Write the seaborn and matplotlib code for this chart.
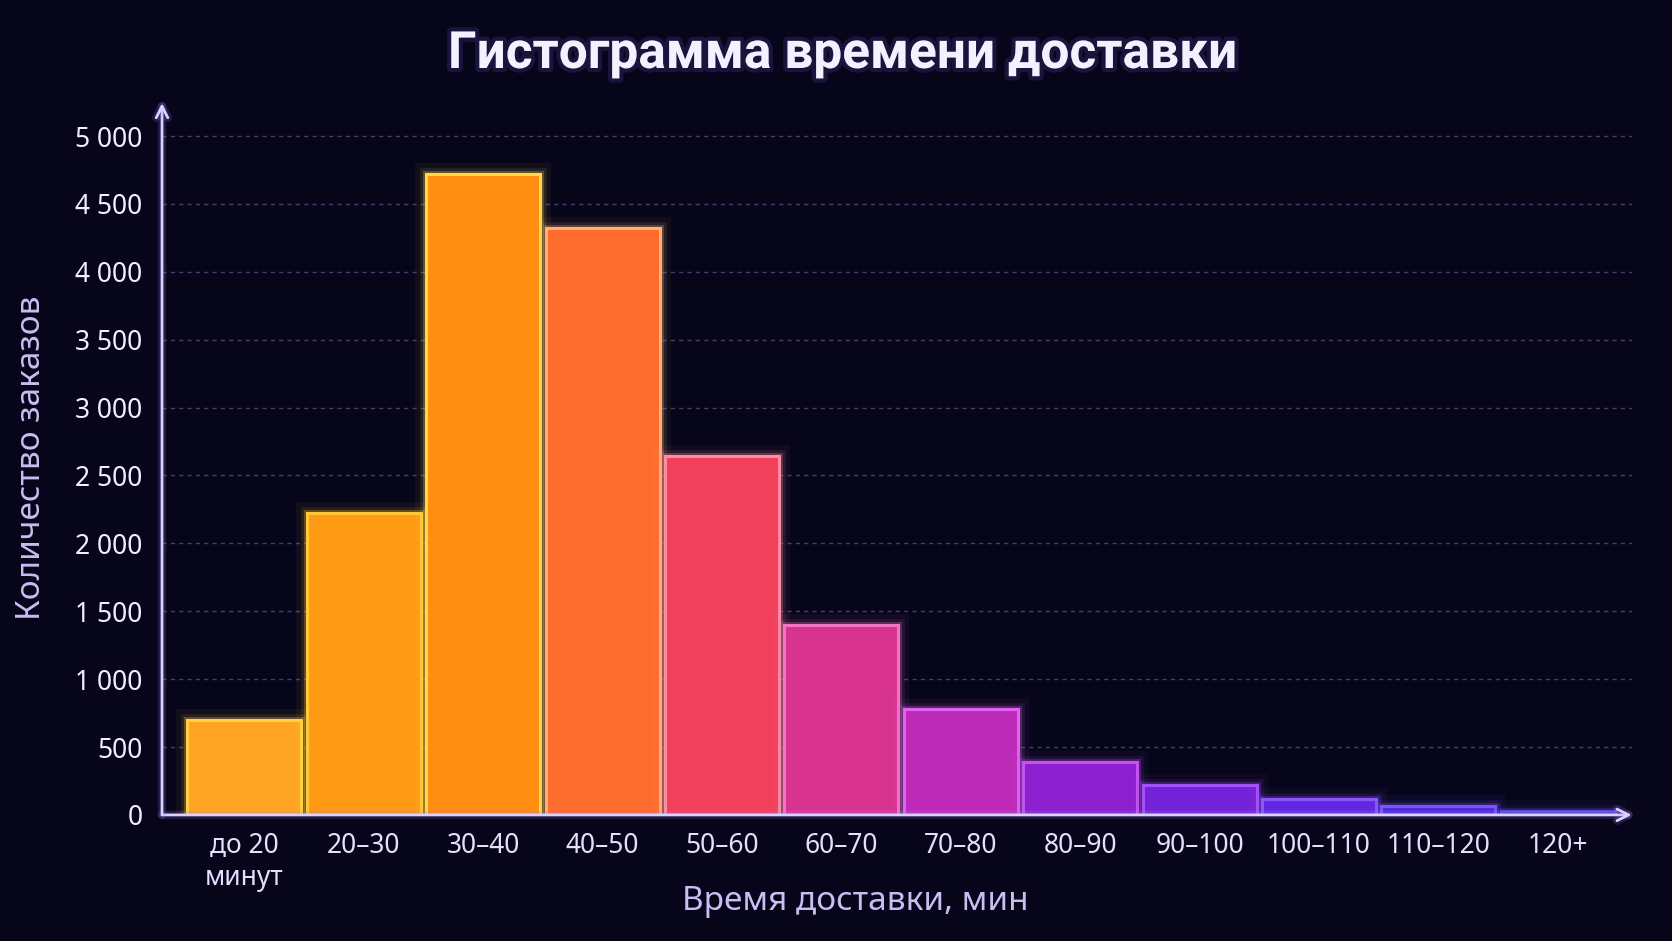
import numpy as np
import pandas as pd
import matplotlib
matplotlib.use("Agg")
import matplotlib.pyplot as plt
import matplotlib.patheffects as pe
from matplotlib.ticker import FuncFormatter, MultipleLocator
import seaborn as sns

# data
categories = ["до 20\nминут", "20–30", "30–40", "40–50", "50–60", "60–70",
              "70–80", "80–90", "90–100", "100–110", "110–120", "120+"]
orders = [700, 2220, 4720, 4320, 2640, 1400, 780, 390, 220, 120, 65, 30]

# colours, warm to cold
fill_colors = ["#FFA523", "#FF9A15", "#FF8E12", "#FF6D2E", "#F0405C", "#D8348F",
               "#BE2AB8", "#8C20CF", "#7424D8", "#6228E0", "#4F2AD8", "#3A2AB0"]
edge_colors = ["#FFD045", "#FFC83A", "#FFD84A", "#FFB070", "#FF8CA2", "#F274C4",
               "#E062F0", "#C452F2", "#A452F8", "#8C55FF", "#7A55FF", "#5A48D8"]

BG = "#06051A"
AXIS_COLOR = "#DCD0FF"
LABEL_COLOR = "#CBBDF2"

sns.set_theme(style="dark")
plt.rcParams["font.family"] = ["Noto Sans", "DejaVu Sans"]

df = pd.DataFrame({"bin": categories, "count": orders})

fig = plt.figure(figsize=(16.72, 9.41), dpi=100, facecolor=BG)
ax = fig.add_axes([0.0969, 0.134, 0.879, 0.7565])
ax.set_facecolor(BG)

sns.barplot(data=df, x="bin", y="count", hue="bin", palette=fill_colors,
            legend=False, width=0.955, saturation=1, ax=ax, zorder=3)

# glowing outlines
for patch, ec in zip(ax.patches, edge_colors):
    patch.set_edgecolor(ec)
    patch.set_linewidth(2.2)
    patch.set_path_effects([
        pe.Stroke(linewidth=16, foreground=ec, alpha=0.05),
        pe.Stroke(linewidth=9, foreground=ec, alpha=0.10),
        pe.Stroke(linewidth=5, foreground=ec, alpha=0.25),
        pe.Normal(),
    ])

ax.set_xlim(-0.69, 11.62)
ax.set_ylim(0, 5243)

# grid
ax.yaxis.set_major_locator(MultipleLocator(500))
ax.yaxis.set_major_formatter(FuncFormatter(lambda v, _: f"{int(v):,}".replace(",", " ")))
ax.grid(axis="y", color="#5B4F8E", linestyle=(0, (3, 3)), linewidth=1.0, alpha=0.75, zorder=0)
ax.grid(axis="x", visible=False)

for s in ax.spines.values():
    s.set_visible(False)

# axes with arrows
glow = [pe.Stroke(linewidth=6, foreground="#9C7CFF", alpha=0.18), pe.Normal()]
for end in [(1, 0), (0, 1)]:
    ax.annotate("", xy=end, xytext=(0, 0), xycoords="axes fraction",
                arrowprops=dict(arrowstyle="->,head_length=0.7,head_width=0.35",
                                color=AXIS_COLOR, lw=2, shrinkA=0, shrinkB=0,
                                path_effects=glow), zorder=5)

ax.tick_params(axis="y", length=0, pad=14, labelsize=19, labelcolor="#F2EEFF")
ax.tick_params(axis="x", length=0, pad=12, labelsize=19, labelcolor="#E6DEFF")
ax.set_xlabel("")
ax.set_ylabel("")

fig.text(855 / 1672, 1 - 901 / 941, "Время доставки, мин", ha="center", va="center",
         fontsize=24, color=LABEL_COLOR)
fig.text(32 / 1672, 1 - 458 / 941, "Количество заказов", ha="center", va="center",
         rotation=90, fontsize=24, color=LABEL_COLOR)
fig.text(842 / 1672, 1 - 54 / 941, "Гистограмма времени доставки", ha="center",
         va="center", fontsize=37, fontweight="bold", color="#F4F0FF",
         family=["Roboto", "DejaVu Sans"],
         path_effects=[pe.Stroke(linewidth=6, foreground="#8A70FF", alpha=0.15), pe.Normal()])

fig.savefig("out.png", dpi=100, facecolor=BG)
